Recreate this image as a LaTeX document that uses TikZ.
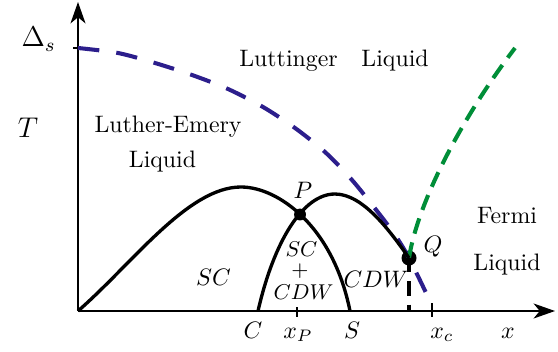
\documentclass[tikz,border=0pt]{standalone}
\usepackage{amsmath}
\usepackage{xcolor}
\usepackage{tikz}
\usetikzlibrary{arrows.meta}
\definecolor{gapblue}{RGB}{44,30,140}
\definecolor{fermigreen}{RGB}{0,142,56}

\begin{document}
\begin{tikzpicture}[x=0.42pt, y=0.42pt,
  axis/.style={line width=0.85pt, -{Stealth[length=9pt, width=6.3pt, inset=2.6pt]}},
  dome/.style={line width=1.4pt},
  gapline/.style={gapblue, line width=1.7pt, dash pattern=on 9pt off 7.2pt},
  fermiline/.style={fermigreen, line width=1.7pt, dash pattern=on 6.7pt off 3.8pt},
  drop/.style={line width=1.4pt, dash pattern=on 6pt off 3.8pt},
  tick/.style={line width=1.1pt},
  dot/.style={circle, fill, inner sep=0pt, minimum size=#1},
  lab/.style={anchor=base},
  mlab/.style={anchor=base, font=\small, inner sep=0pt}]
\useasboundingbox (-78,-40) rectangle (480,311);
\coordinate (O) at (0,0);
\coordinate (top) at (0,309);
\coordinate (right) at (477,0);
\coordinate (Ds) at (0,263);
\coordinate (C) at (180,0);
\coordinate (S) at (272,0);
\coordinate (xP) at (219,0);
\coordinate (xc) at (354,0);
\coordinate (gtop) at (437,263);
\node[dot=5pt] (P) at (222,96.5) {};
\node[dot=6.3pt] (Q) at (331,53) {};
\draw[axis] (O) -- (top);
\draw[axis] (O) -- (right);
\draw[line width=0.85pt] (Ds) -- ++(-5,0);
\draw[tick] (xP) ++(0,4) -- ++(0,-10);
\draw[tick] (xc) ++(0,8) -- ++(0,-14);
\draw[gapline] plot[smooth] coordinates {(Ds) (40,258) (77,248) (114,236) (150,222) (185,204) (217,183) (247,159) (274,131) (299,100) (317,76) (331,53) (350,14)};
\draw[fermiline] (Q.center) .. controls (340,110) and (385,195) .. (gtop);
\draw[dome] (O) .. controls (55,48) and (110,124) .. (163,124) .. controls (200,124) and (255,85) .. (S);
\draw[dome] (C) .. controls (196,70) and (225,117) .. (257,117) .. controls (285,117) and (312,80) .. (Q.center);
\draw[drop] (Q.center) -- (Q |- O);
\node[lab, anchor=base east, font=\large] (DsL) at (-14,264) {$\Delta_s$};
\node[lab, font=\fontsize{13}{15}\selectfont] (Tl) at (-50,174) {$T$};
\node[lab] (LE) at (90,179) {Luther-Emery};
\node[lab] (LEl) at (84.5,144) {Liquid};
\node[lab] (LL) at (256,244) {Luttinger\quad Liquid};
\node[lab] (FE) at (429,88) {Fermi};
\node[lab] (FEl) at (429,41) {Liquid};
\node[lab] (scL) at (135.5,26) {$SC$};
\node[mlab] (mixa) at (223.5,55) {$SC$};
\node[mlab, anchor=center] (mixb) at (222,40) {$+$};
\node[mlab] (mixc) at (225.5,12) {$CDW$};
\node[lab] (cdwL) at (298,24) {$CDW$};
\node[lab] (Pl) at (225,113) {$P$};
\node[lab] (Ql) at (355,59) {$Q$};
\node[lab] (Cl) at (175,-27) {$C$};
\node[lab] (xPl) at (220,-27) {$x_P$};
\node[lab] (Sl) at (274,-27) {$S$};
\node[lab] (xcl) at (364,-27) {$x_c$};
\node[lab] (xl) at (430,-27) {$x$};
\end{tikzpicture}
\end{document}
